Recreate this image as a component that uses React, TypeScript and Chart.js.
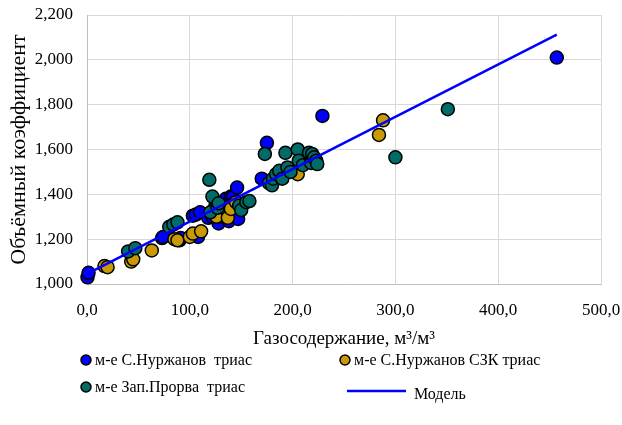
import React, { useEffect, useRef } from "react";
import { Chart, registerables } from "chart.js";

Chart.register(...registerables);

// ---- Data ----
const seriesNames = [
  "м-е С.Нуржанов  триас",
  "м-е С.Нуржанов СЗК триас",
  "м-е Зап.Прорва  триас",
  "Модель",
];

const blueX = [0.5, 1.5, 73, 74, 90, 91, 103, 106, 108, 110, 118, 121, 122, 125, 128, 131, 135, 135, 138, 140, 142, 143, 146, 147, 148, 170, 175, 229, 457];
const blueY = [1.03, 1.05, 1.205, 1.21, 1.195, 1.205, 1.305, 1.31, 1.21, 1.32, 1.295, 1.31, 1.30, 1.35, 1.27, 1.30, 1.33, 1.38, 1.28, 1.39, 1.388, 1.36, 1.43, 1.29, 1.345, 1.47, 1.63, 1.75, 2.01];

const goldX = [17, 20, 43, 45, 63, 85, 88, 100, 103, 111, 126, 137, 137, 140, 145, 205, 284, 288];
const goldY = [1.08, 1.075, 1.10, 1.11, 1.15, 1.20, 1.195, 1.21, 1.225, 1.235, 1.30, 1.32, 1.295, 1.335, 1.365, 1.49, 1.665, 1.73];

const tealX = [40, 47, 80, 84, 88, 119, 122, 120, 127, 128, 148, 150, 155, 158, 173, 177, 180, 181, 184, 187, 190, 193, 195, 198, 205, 206, 210, 216, 218, 219, 221, 223, 224, 300, 351];
const tealY = [1.145, 1.16, 1.255, 1.265, 1.275, 1.465, 1.39, 1.32, 1.34, 1.36, 1.35, 1.33, 1.365, 1.37, 1.58, 1.45, 1.44, 1.47, 1.49, 1.505, 1.47, 1.585, 1.52, 1.50, 1.60, 1.55, 1.53, 1.585, 1.54, 1.58, 1.565, 1.55, 1.535, 1.565, 1.78];

const modelX = [1, 457];
const modelY = [1.047, 2.112];

const xMin = 0, xMax = 500, xStep = 100;
const yMin = 1.0, yMax = 2.2, yStep = 0.2;

const xTitle = "Газосодержание, м³/м³";
const yTitle = "Объёмный коэффициент";

const colors = ["#0000FF", "#C99A06", "#006C67", "#0000FF"];

const pts = (xs: number[], ys: number[]) => xs.map((x, i) => ({ x, y: ys[i] }));

const FONT = "'Liberation Serif', 'Times New Roman', serif";

const legendPlugin = {
  id: "customLegend",
  afterDraw(chart: any) {
    const ctx = chart.ctx;
    ctx.save();
    ctx.font = `16px ${FONT}`;
    ctx.textBaseline = "middle";
    ctx.textAlign = "left";
    ctx.fillStyle = "#000";
    const items = [
      { x: 86, y: 360, type: "pt", i: 0 },
      { x: 345, y: 360, type: "pt", i: 1 },
      { x: 86, y: 387, type: "pt", i: 2 },
      { x: 347, y: 391, type: "line", i: 3 },
    ];
    items.forEach((it) => {
      if (it.type === "pt") {
        ctx.beginPath();
        ctx.arc(it.x, it.y, 5, 0, Math.PI * 2);
        ctx.fillStyle = colors[it.i];
        ctx.fill();
        ctx.lineWidth = 1.5;
        ctx.strokeStyle = "#000";
        ctx.stroke();
        ctx.fillStyle = "#000";
        ctx.fillText(seriesNames[it.i], it.x + 9, it.y + 1);
      } else {
        ctx.beginPath();
        ctx.moveTo(it.x, it.y);
        ctx.lineTo(it.x + 59, it.y);
        ctx.strokeStyle = colors[it.i];
        ctx.lineWidth = 2.5;
        ctx.stroke();
        ctx.fillStyle = "#000";
        ctx.fillText(seriesNames[it.i], it.x + 67, it.y + 4);
      }
    });
    ctx.restore();
  },
};

export default function App() {
  const ref = useRef<HTMLCanvasElement>(null);
  useEffect(() => {
    if (!ref.current) return;
    const scatterDs = (i: number, data: any[], order: number) => ({
      label: seriesNames[i],
      data,
      backgroundColor: colors[i],
      borderColor: "#000",
      borderWidth: 1.5,
      pointRadius: 6.5,
      pointHoverRadius: 6.5,
      showLine: false,
      clip: false,
      order,
    });
    const chart = new Chart(ref.current, {
      type: "scatter",
      data: {
        datasets: [
          scatterDs(0, pts(blueX, blueY), 3),
          scatterDs(1, pts(goldX, goldY), 2),
          scatterDs(2, pts(tealX, tealY), 1),
          {
            label: seriesNames[3],
            data: pts(modelX, modelY),
            showLine: true,
            borderColor: colors[3],
            backgroundColor: colors[3],
            borderWidth: 2.5,
            pointRadius: 0,
            clip: false,
            order: 0,
          } as any,
        ],
      },
      options: {
        animation: false,
        responsive: false,
        maintainAspectRatio: false,
        layout: { autoPadding: false, padding: { left: 0, top: 15, right: 21, bottom: 0 } },
        plugins: { legend: { display: false }, tooltip: { enabled: false } },
        scales: {
          x: {
            type: "linear",
            min: xMin,
            max: xMax,
            afterFit: (s: any) => {
              s.height = 141;
              s.paddingLeft = 0;
              s.paddingRight = 0;
            },
            ticks: {
              stepSize: xStep,
              padding: 16,
              color: "#000",
              font: { family: FONT, size: 17 },
              callback: (v: any) => Number(v).toFixed(1).replace(".", ","),
            },
            grid: { color: "#d9d9d9", drawTicks: false, lineWidth: 1 },
            border: { color: "#bfbfbf", width: 1 },
            title: {
              display: true,
              text: xTitle,
              color: "#000",
              font: { family: FONT, size: 19 },
              padding: { top: 0, bottom: 75 },
            },
          },
          y: {
            type: "linear",
            min: yMin,
            max: yMax,
            afterFit: (s: any) => {
              s.width = 87;
              s.paddingTop = 0;
              s.paddingBottom = 0;
            },
            ticks: {
              stepSize: yStep,
              padding: 14,
              color: "#000",
              font: { family: FONT, size: 17 },
              callback: (v: any) => Number(v).toFixed(3).replace(".", ","),
            },
            grid: { color: "#d9d9d9", drawTicks: false, lineWidth: 1 },
            border: { color: "#bfbfbf", width: 1 },
            title: {
              display: true,
              text: yTitle,
              color: "#000",
              font: { family: FONT, size: 22 },
              padding: { top: 6, bottom: 0 },
            },
          },
        },
      },
      plugins: [legendPlugin],
    });
    return () => chart.destroy();
  }, []);
  return (
    <div style={{ position: "fixed", left: 0, top: 0, width: 622, height: 425, background: "#fff" }}>
      <canvas ref={ref} width={622} height={425} style={{ width: 622, height: 425 }} />
    </div>
  );
}
